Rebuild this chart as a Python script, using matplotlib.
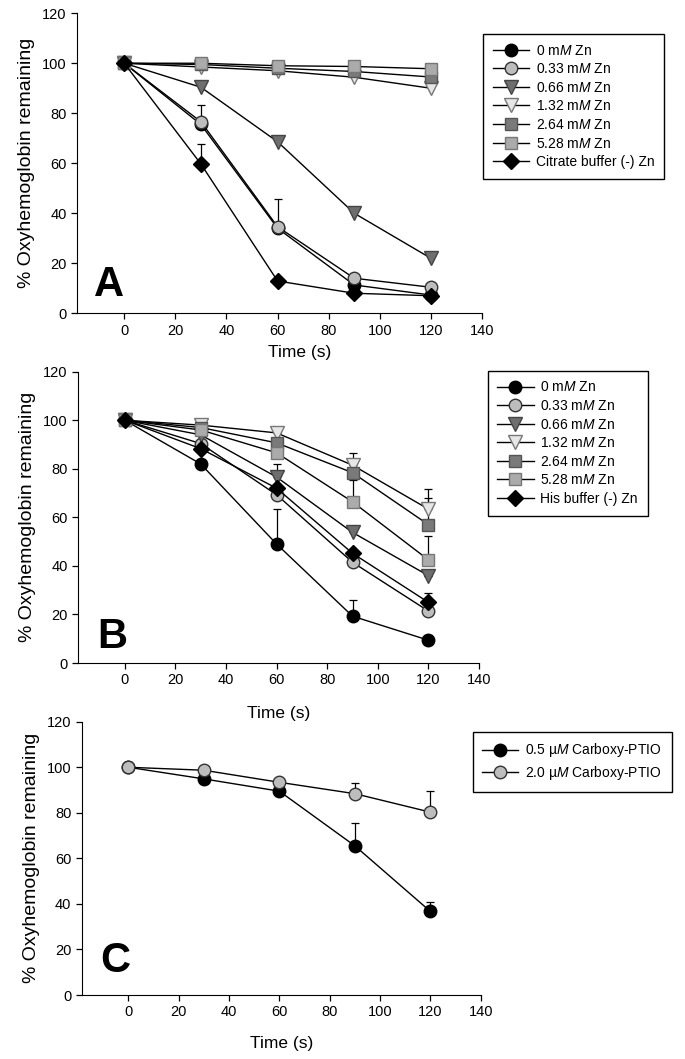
import matplotlib.pyplot as plt
import numpy as np

plt.rcParams['font.family'] = ['Liberation Sans', 'DejaVu Sans']
plt.rcParams['mathtext.fontset'] = 'custom'
plt.rcParams['mathtext.it'] = 'Liberation Sans:italic'
plt.rcParams['mathtext.rm'] = 'Liberation Sans'

# data
time = [0, 30, 60, 90, 120]

zn_labels = ['0 m$M$ Zn', '0.33 m$M$ Zn', '0.66 m$M$ Zn', '1.32 m$M$ Zn',
             '2.64 m$M$ Zn', '5.28 m$M$ Zn']

# panel A (citrate buffer)
a_0 = [100, 75.5, 34, 11.3, 7.3]
a_033 = [100, 76.6, 34.6, 14, 10.4]
a_066 = [100, 90.4, 68.6, 40, 22]
a_132 = [100, 98.5, 97, 94.4, 90]
a_264 = [100, 99.5, 98, 96.7, 94.5]
a_528 = [100, 100, 99, 98.7, 97.8]
a_buf = [100, 59.7, 12.9, 8, 7]
a_033_err = [0, 6.7, 11, 0, 0]
a_buf_err = [0, 7.9, 0, 0, 0]
a_buf_label = 'Citrate buffer (-) Zn'

# panel B (His buffer)
b_0 = [100, 82, 49, 19.3, 9.4]
b_033 = [100, 90.4, 69.3, 41.5, 21.4]
b_066 = [100, 94, 76.6, 53.8, 36]
b_132 = [100, 98, 94.8, 81.5, 63.4]
b_264 = [100, 97, 90.7, 78.4, 57]
b_528 = [100, 96, 86.6, 66.4, 42.5]
b_buf = [100, 88.3, 72, 45.2, 25]
b_0_err = [0, 0, 14.4, 6.5, 0]
b_066_err = [0, 0, 5.4, 2.1, 0]
b_132_err = [0, 0, 1.4, 5.1, 8.2]
b_264_err = [0, 0, 0, 5.6, 11]
b_528_err = [0, 0, 0, 9, 10]
b_buf_err = [0, 0, 0, 0, 3.8]
b_buf_label = 'His buffer (-) Zn'

# panel C (Carboxy-PTIO)
c_labels = ['0.5 µ$M$ Carboxy-PTIO', '2.0 µ$M$ Carboxy-PTIO']
c_05 = [100, 94.9, 89.5, 65.5, 36.7]
c_20 = [100, 98.7, 93.4, 88.4, 80.3]
c_05_err = [0, 0, 0, 10.2, 4.3]
c_20_err = [0, 0, 0, 4.8, 9.2]

# marker styles for the Zn series + buffer
styles = [
    dict(marker='o', mfc='black', mec='black', ms=9),
    dict(marker='o', mfc='#bdbdbd', mec='#333333', ms=9),
    dict(marker='v', mfc='#6e6e6e', mec='#444444', ms=10),
    dict(marker='v', mfc='#e6e6e6', mec='#777777', ms=10),
    dict(marker='s', mfc='#7a7a7a', mec='#555555', ms=8),
    dict(marker='s', mfc='#ababab', mec='#777777', ms=8),
    dict(marker='D', mfc='black', mec='black', ms=8),
]


def draw(ax, series, errs, sty):
    handles = []
    for y, e, st in zip(series, errs, sty):
        yerr = None
        if e is not None:
            yerr = [np.zeros(len(e)), e]
        h = ax.errorbar(time, y, yerr=yerr, color='black', lw=1.0,
                        elinewidth=0.9, capsize=3, capthick=0.9, **st)
        handles.append(h[0])
    return handles


def style_axes(ax, labelpad):
    ax.set_xlim(-18.5, 140)
    ax.set_ylim(0, 120)
    ax.set_xticks(range(0, 141, 20))
    ax.set_yticks(range(0, 121, 20))
    ax.spines['top'].set_visible(False)
    ax.spines['right'].set_visible(False)
    ax.tick_params(direction='out', length=4, width=0.9, labelsize=10.5)
    ax.set_xlabel('Time (s)', fontsize=12.5, labelpad=labelpad)
    ax.set_ylabel('% Oxyhemoglobin remaining', fontsize=14, labelpad=5)


fig = plt.figure(figsize=(6.85, 10.59), dpi=100)

axA = fig.add_axes([0.1124, 0.7042, 0.5912, 0.2833])
axB = fig.add_axes([0.1139, 0.3739, 0.5854, 0.2751])
axC = fig.add_axes([0.1193, 0.0604, 0.5825, 0.2581])

legend_kw = dict(loc='upper left', fontsize=10, frameon=True, fancybox=False,
                 edgecolor='black', framealpha=1, handlelength=2.6,
                 labelspacing=0.33, borderpad=0.7, handletextpad=0.5,
                 borderaxespad=0)

# A
hA = draw(axA, [a_0, a_033, a_066, a_132, a_264, a_528, a_buf],
          [None, a_033_err, None, None, None, None, a_buf_err], styles)
style_axes(axA, 5)
axA.xaxis.label.set_x(0.55)
axA.text(-12, 7, 'A', fontsize=30, fontweight='bold')
fig.legend(hA, zn_labels + [a_buf_label], bbox_to_anchor=(0.705, 0.968),
           **legend_kw)

# B
hB = draw(axB, [b_0, b_033, b_066, b_132, b_264, b_528, b_buf],
          [b_0_err, None, b_066_err, b_132_err, b_264_err, b_528_err, b_buf_err],
          styles)
style_axes(axB, 13)
axB.text(-11, 6, 'B', fontsize=30, fontweight='bold')
fig.legend(hB, zn_labels + [b_buf_label], bbox_to_anchor=(0.712, 0.650),
           **legend_kw)

# C
hC = draw(axC, [c_05, c_20], [c_05_err, c_20_err], [styles[0], styles[1]])
style_axes(axC, 12)
axC.text(-11, 10, 'C', fontsize=30, fontweight='bold')
fig.legend(hC, c_labels, bbox_to_anchor=(0.690, 0.309), **legend_kw)

fig.savefig('out.png', dpi=100)
plt.close(fig)
